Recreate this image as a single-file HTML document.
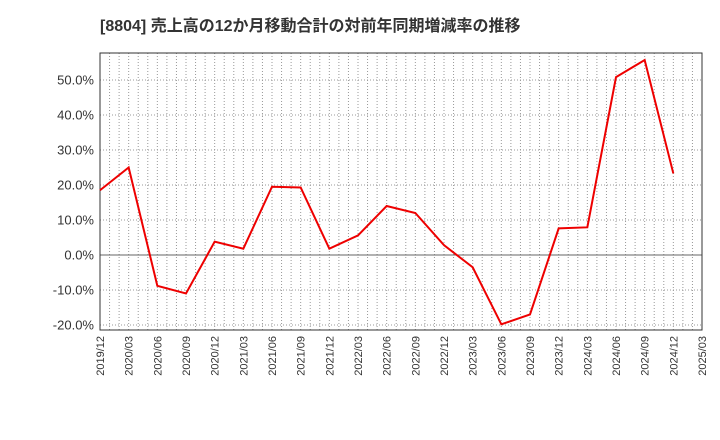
<!DOCTYPE html>
<html><head><meta charset="utf-8">
<style>body{margin:0;background:#fff;}svg{display:block;font-family:"Liberation Sans","Noto Sans CJK JP",sans-serif;}</style>
</head><body>
<svg id="chart" width="720" height="440">
<text x="100" y="31" font-size="16" font-weight="bold" fill="#333">[8804]  売上高の12か月移動合計の対前年同期増減率の推移</text>
<g id="grid"></g><g id="axes"></g><g id="series"></g>
</svg>
<script>
const categories=["2019/12","2020/03","2020/06","2020/09","2020/12","2021/03","2021/06","2021/09","2021/12","2022/03","2022/06","2022/09","2022/12","2023/03","2023/06","2023/09","2023/12","2024/03","2024/06","2024/09","2024/12","2025/03"];
const values=[18.5,25,-8.8,-11,3.8,1.8,19.5,19.3,1.8,5.6,14,12,2.8,-3.5,-19.8,-17,7.6,7.9,50.8,55.7,23.3];
const yTicks=[-20,-10,0,10,20,30,40,50];
const L=100,R=702,T=53,B=330,yMin=-21.43,yMax=57.71;
const NS="http://www.w3.org/2000/svg";
const x=i=>L+(R-L)*i/(categories.length-1);
const y=v=>B-(v-yMin)/(yMax-yMin)*(B-T);
function mk(t,a,p){const e=document.createElementNS(NS,t);for(const k in a)e.setAttribute(k,a[k]);p.appendChild(e);return e;}
const g=document.getElementById('grid'),ax=document.getElementById('axes'),s=document.getElementById('series');
const months=(categories.length-1)*3;
for(let m=1;m<months;m++){const xx=L+(R-L)*m/months;const l=mk('line',{x1:xx,x2:xx,y1:T,y2:B,stroke:'#999','stroke-width':1,'stroke-dasharray':'1,2'},g);

}
yTicks.forEach(v=>{const l=mk('line',{x1:L,x2:R,y1:y(v),y2:y(v),stroke:v===0?'#666':'#999','stroke-width':1,'stroke-dasharray':v===0?'':'1,2'},g);


const t=mk('text',{x:L-6,y:y(v)+4.5,'text-anchor':'end','font-size':13,fill:'#333'},ax);t.textContent=v.toFixed(1)+'%';

});
categories.forEach((c,i)=>{const t=mk('text',{transform:`translate(${x(i)+4},${B+6}) rotate(-90)`,'text-anchor':'end','font-size':11,fill:'#333'},ax);t.textContent=c;

});
const fr=mk('rect',{x:L,y:T,width:R-L,height:B-T,fill:'none',stroke:'#333','stroke-width':1},ax);


const p=mk('polyline',{points:values.map((v,i)=>x(i)+','+y(v)).join(' '),fill:'none',stroke:'#ee0000','stroke-width':2,'stroke-linejoin':'miter'},s);


</script>
</body></html>
